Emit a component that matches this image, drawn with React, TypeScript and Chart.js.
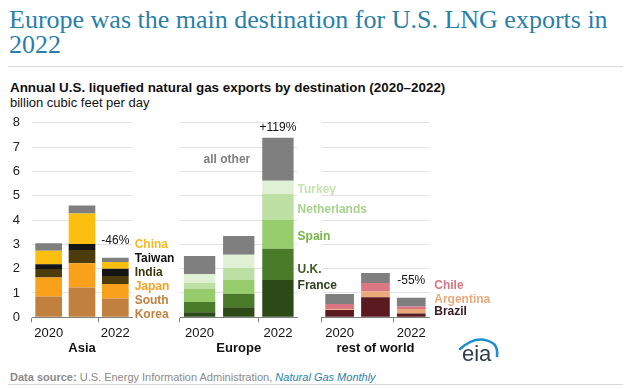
import React, { useEffect, useRef } from 'react';
import { Chart, registerables } from 'chart.js';
Chart.register(...registerables);

const years = ['2020', '2021', '2022'];
const yearTickLabels = ['2020', '', '2022'];

// Asia (billion cubic feet per day), stacked bottom to top
const asiaKorea = [0.85, 1.22, 0.77];
const asiaJapan = [0.79, 1.0, 0.6];
const asiaIndia = [0.35, 0.55, 0.33];
const asiaTaiwan = [0.19, 0.24, 0.3];
const asiaChina = [0.56, 1.26, 0.27];
const asiaOther = [0.3, 0.33, 0.18];

// Europe
const europeFrance = [0.21, 0.41, 1.53];
const europeUK = [0.42, 0.56, 1.29];
const europeSpain = [0.53, 0.56, 1.18];
const europeNetherlands = [0.26, 0.5, 1.07];
const europeTurkey = [0.36, 0.54, 0.54];
const europeOther = [0.74, 0.77, 1.77];

// Rest of world
const rowBrazil = [0.3, 0.82, 0.16];
const rowArgentina = [0.03, 0.24, 0.18];
const rowChile = [0.22, 0.35, 0.1];
const rowOther = [0.41, 0.41, 0.36];

const groupNames = ['Asia', 'Europe', 'rest of world'];
const changeLabels = ['-46%', '+119%', '-55%'];
const changeLabelPos = [3.15, 7.8, 1.5];

const asiaLabelText = ['China', 'Taiwan', 'India', 'Japan', 'South', 'Korea'];
const asiaLabelPos = [2.97, 2.4, 1.82, 1.25, 0.67, 0.09];
const europeLabelText = ['Turkey', 'Netherlands', 'Spain', 'U.K.', 'France'];
const europeLabelPos = [5.25, 4.41, 3.31, 1.97, 1.29];
const rowLabelText = ['Chile', 'Argentina', 'Brazil'];
const rowLabelPos = [1.32, 0.74, 0.23];
const otherLabelPos = 6.5;

const SANS = '"Liberation Sans", Arial, Helvetica, sans-serif';

const segLabelPlugin = {
  id: 'segLabels',
  afterDatasetsDraw(chart: any, _args: any, opts: any) {
    if (!opts || !opts.items) return;
    const ctx = chart.ctx;
    const yScale = chart.scales.y;
    const bar: any = chart.getDatasetMeta(0).data[2];
    const half = bar.width / 2;
    const right = bar.x + half;
    const left = bar.x - half;
    ctx.save();
    ctx.textBaseline = 'middle';
    ctx.textAlign = 'left';
    ctx.font = 'bold 12px ' + SANS;
    for (const it of opts.items) {
      ctx.fillStyle = it.color;
      ctx.fillText(it.text, right + opts.gap, yScale.getPixelForValue(it.value));
    }
    if (opts.pct) {
      ctx.font = '12px ' + SANS;
      ctx.fillStyle = '#111';
      ctx.textAlign = 'center';
      ctx.fillText(opts.pct.text, bar.x, yScale.getPixelForValue(opts.pct.value));
    }
    if (opts.other) {
      ctx.font = 'bold 12px ' + SANS;
      ctx.fillStyle = '#7f7f7f';
      ctx.textAlign = 'right';
      ctx.fillText(opts.other.text, left - opts.other.gap, yScale.getPixelForValue(opts.other.value));
    }
    ctx.restore();
  },
};

function makeConfig(p: {
  datasets: { label: string; data: number[]; color: string }[];
  padLeft: number;
  padRight: number;
  yWidth: number;
  showY: boolean;
  title: string;
  seg: any;
}): any {
  return {
    type: 'bar',
    data: {
      labels: years,
      datasets: p.datasets.map((d) => ({
        label: d.label,
        data: d.data,
        backgroundColor: d.color,
        borderWidth: 0,
        barPercentage: 0.8,
        categoryPercentage: 1,
      })),
    },
    plugins: [segLabelPlugin],
    options: {
      animation: false,
      responsive: false,
      maintainAspectRatio: false,
      layout: { padding: { left: p.padLeft, right: p.padRight, top: 10.7, bottom: 0 } },
      plugins: {
        legend: { display: false },
        tooltip: { enabled: false },
        segLabels: p.seg,
      },
      scales: {
        x: {
          stacked: true,
          offset: true,
          grid: {
            display: true,
            offset: true,
            drawOnChartArea: false,
            drawTicks: true,
            tickLength: 5,
            color: (c: any) => (c.index === 0 || c.index === 2 ? '#7f7f7f' : 'rgba(0,0,0,0)'),
          },
          border: { display: true, color: '#7f7f7f', width: 1 },
          ticks: {
            autoSkip: false,
            maxRotation: 0,
            padding: 3,
            color: '#111',
            font: { family: SANS, size: 13 },
            callback: (_v: any, i: number) => yearTickLabels[i],
          },
          title: {
            display: true,
            text: p.title,
            color: '#111',
            font: { family: SANS, size: 13, weight: 'bold' },
            padding: { top: 0, bottom: 6 },
          },
          afterFit: (s: any) => {
            s.height = 44.7;
            s.paddingLeft = 0;
            s.paddingRight = 0;
          },
        },
        y: {
          stacked: true,
          min: 0,
          max: 8,
          grid: { color: '#e2e2e2', drawTicks: false, lineWidth: 1 },
          border: { display: false },
          ticks: {
            display: p.showY,
            stepSize: 1,
            padding: 12,
            color: '#222',
            font: { family: SANS, size: 13 },
          },
          afterFit: (s: any) => {
            s.width = p.yWidth;
            s.paddingTop = 0;
            s.paddingBottom = 0;
          },
        },
      },
    },
  };
}

export default function App() {
  const asiaRef = useRef<HTMLCanvasElement>(null);
  const eurRef = useRef<HTMLCanvasElement>(null);
  const rowRef = useRef<HTMLCanvasElement>(null);

  useEffect(() => {
    const charts: Chart[] = [];
    charts.push(
      new Chart(
        asiaRef.current as HTMLCanvasElement,
        makeConfig({
          datasets: [
            { label: 'South Korea', data: asiaKorea, color: '#c1803e' },
            { label: 'Japan', data: asiaJapan, color: '#f9a11b' },
            { label: 'India', data: asiaIndia, color: '#4e3b0c' },
            { label: 'Taiwan', data: asiaTaiwan, color: '#151515' },
            { label: 'China', data: asiaChina, color: '#fcbf10' },
            { label: 'all other', data: asiaOther, color: '#7f7f7f' },
          ],
          padLeft: 0,
          padRight: 48,
          yWidth: 32,
          showY: true,
          title: groupNames[0],
          seg: {
            gap: 6,
            items: [
              { text: asiaLabelText[0], value: asiaLabelPos[0], color: '#f7b924' },
              { text: asiaLabelText[1], value: asiaLabelPos[1], color: '#111111' },
              { text: asiaLabelText[2], value: asiaLabelPos[2], color: '#3f3510' },
              { text: asiaLabelText[3], value: asiaLabelPos[3], color: '#f6a11f' },
              { text: asiaLabelText[4], value: asiaLabelPos[4], color: '#c1813f' },
              { text: asiaLabelText[5], value: asiaLabelPos[5], color: '#c1813f' },
            ],
            pct: { text: changeLabels[0], value: changeLabelPos[0] },
          },
        })
      )
    );
    charts.push(
      new Chart(
        eurRef.current as HTMLCanvasElement,
        makeConfig({
          datasets: [
            { label: 'France', data: europeFrance, color: '#2c4a17' },
            { label: 'U.K.', data: europeUK, color: '#4a7b29' },
            { label: 'Spain', data: europeSpain, color: '#97cc6d' },
            { label: 'Netherlands', data: europeNetherlands, color: '#bddfa3' },
            { label: 'Turkey', data: europeTurkey, color: '#e0f0d4' },
            { label: 'all other', data: europeOther, color: '#7f7f7f' },
          ],
          padLeft: 10,
          padRight: 82.5,
          yWidth: 0,
          showY: false,
          title: groupNames[1],
          seg: {
            gap: 4,
            items: [
              { text: europeLabelText[0], value: europeLabelPos[0], color: '#c6e2ad' },
              { text: europeLabelText[1], value: europeLabelPos[1], color: '#a6d28b' },
              { text: europeLabelText[2], value: europeLabelPos[2], color: '#78b546' },
              { text: europeLabelText[3], value: europeLabelPos[3], color: '#3c5a24' },
              { text: europeLabelText[4], value: europeLabelPos[4], color: '#2c3d1f' },
            ],
            pct: { text: changeLabels[1], value: changeLabelPos[1] },
            other: { text: 'all other', value: otherLabelPos, gap: 12 },
          },
        })
      )
    );
    charts.push(
      new Chart(
        rowRef.current as HTMLCanvasElement,
        makeConfig({
          datasets: [
            { label: 'Brazil', data: rowBrazil, color: '#5b1a20' },
            { label: 'Argentina', data: rowArgentina, color: '#eba97b' },
            { label: 'Chile', data: rowChile, color: '#da7782' },
            { label: 'all other', data: rowOther, color: '#7f7f7f' },
          ],
          padLeft: 11.7,
          padRight: 70.8,
          yWidth: 0,
          showY: false,
          title: groupNames[2],
          seg: {
            gap: 8.6,
            items: [
              { text: rowLabelText[0], value: rowLabelPos[0], color: '#da7782' },
              { text: rowLabelText[1], value: rowLabelPos[1], color: '#eba97b' },
              { text: rowLabelText[2], value: rowLabelPos[2], color: '#3a1a1c' },
            ],
            pct: { text: changeLabels[2], value: changeLabelPos[2] },
          },
        })
      )
    );
    return () => charts.forEach((c) => c.destroy());
  }, []);

  const canvasStyle = (left: number): React.CSSProperties => ({
    position: 'absolute',
    left,
    top: 112,
  });

  return (
    <div
      style={{
        position: 'fixed',
        left: 0,
        top: 0,
        width: 631,
        height: 389,
        background: '#fff',
        overflow: 'hidden',
        fontFamily: SANS,
      }}
    >
      <div
        style={{
          position: 'absolute',
          left: 9,
          top: 7,
          width: 615,
          fontFamily: '"Liberation Serif", "Times New Roman", serif',
          fontSize: 26,
          lineHeight: '25px',
          color: '#2a7faa',
        }}
      >
        Europe was the main destination for U.S. LNG exports in 2022
      </div>
      <div style={{ position: 'absolute', left: 8, top: 66, width: 615, height: 1, background: '#d9d9d9' }} />
      <div
        style={{
          position: 'absolute',
          left: 10,
          top: 80,
          fontSize: 13.4,
          fontWeight: 'bold',
          color: '#111',
          lineHeight: '15px',
          whiteSpace: 'nowrap',
        }}
      >
        Annual U.S. liquefied natural gas exports by destination (2020–2022)
      </div>
      <div
        style={{
          position: 'absolute',
          left: 10,
          top: 95,
          fontSize: 13,
          color: '#111',
          lineHeight: '15px',
          whiteSpace: 'nowrap',
        }}
      >
        billion cubic feet per day
      </div>
      <canvas ref={asiaRef} width={180} height={250} style={canvasStyle(0)} />
      <canvas ref={eurRef} width={210} height={250} style={canvasStyle(170)} />
      <canvas ref={rowRef} width={190} height={250} style={canvasStyle(310)} />
      <svg style={{ position: 'absolute', left: 450, top: 330, width: 60, height: 40 }} width={60} height={40}>
        <path d="M 10 19 Q 28 3 44 14 Q 48 18 47 26" fill="none" stroke="#1b8fd2" strokeWidth={2.6} strokeLinecap="round" />
        <text x={12} y={31} fontFamily={SANS} fontSize={22} fill="#2f3d4c">
          eia
        </text>
      </svg>
      <div
        style={{
          position: 'absolute',
          left: 10,
          top: 371,
          fontSize: 11,
          lineHeight: '13px',
          color: '#8a8a8a',
          whiteSpace: 'nowrap',
        }}
      >
        <b>Data source:</b> U.S. Energy Information Administration,{' '}
        <i style={{ color: '#2a7faa' }}>Natural Gas Monthly</i>
      </div>
      <div style={{ position: 'absolute', left: 8, top: 384, width: 615, height: 1, background: '#d9d9d9' }} />
    </div>
  );
}
